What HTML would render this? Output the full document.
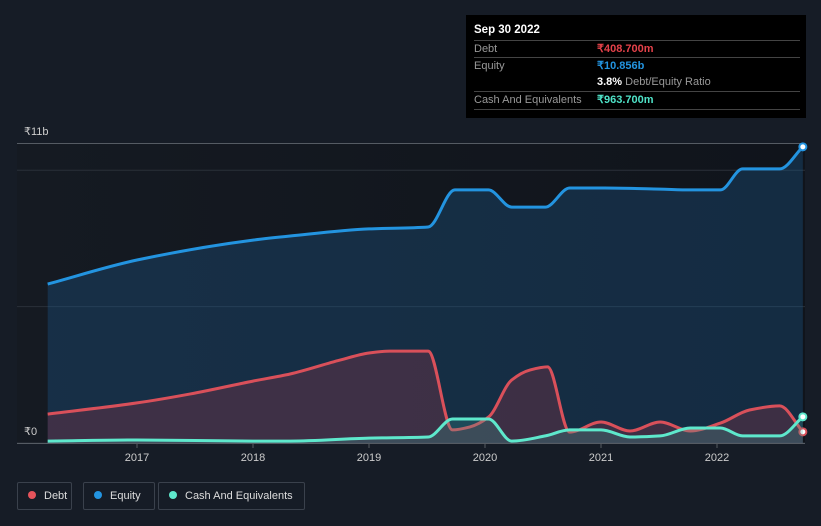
<!DOCTYPE html>
<html><head><meta charset="utf-8"><style>
body{margin:0;background:#161c26;font-family:"Liberation Sans",sans-serif;}
#wrap{position:relative;width:821px;height:526px;overflow:hidden;background:#161c26;}
svg{position:absolute;left:0;top:0}
.tt{position:absolute;left:466px;top:15px;width:340px;height:103px;background:#000;color:#fff;font-size:11px}
.row{position:absolute;left:8px;width:326px;border-top:1px solid #444;height:17px;line-height:17px}
.lg{position:absolute;top:482px;height:26px;border:1px solid #3a414c;border-radius:2px;color:#ddd;font-size:11px;line-height:26px}
.dot{display:inline-block;width:8px;height:8px;border-radius:50%;margin:0 8px 0 10px;vertical-align:-0px}
</style></head><body>
<div id="wrap">
<svg id="chart" width="821" height="526"></svg>
<div class="tt">
 <div style="position:absolute;left:8px;top:9px;font-weight:bold;font-size:11.5px">Sep 30 2022</div>
 <div class="row" style="top:25px"><span style="color:#999">Debt</span><span style="position:absolute;left:123px;color:#e5424a;font-weight:bold">₹408.700m</span></div>
 <div class="row" style="top:42px"><span style="color:#999">Equity</span><span style="position:absolute;left:123px;color:#2394e0;font-weight:bold">₹10.856b</span></div>
 <div class="row" style="top:59px;border-top:none"><span style="position:absolute;left:123px"><b>3.8%</b> <span style="color:#999">Debt/Equity Ratio</span></span></div>
 <div class="row" style="top:76px;border-bottom:1px solid #444"><span style="color:#999">Cash And Equivalents</span><span style="position:absolute;left:123px;color:#4fe3c8;font-weight:bold">₹963.700m</span></div>
</div>
<div class="lg" style="left:17px;width:53px"><span class="dot" style="background:#e5535b"></span>Debt</div>
<div class="lg" style="left:83px;width:70px"><span class="dot" style="background:#2394e0"></span>Equity</div>
<div class="lg" style="left:158px;width:145px"><span class="dot" style="background:#5ee8cc"></span>Cash And Equivalents</div>
</div>
<script>
const eqT=[2016.23,2017,2018,2018.32,2019,2019.51,2019.74,2020.03,2020.23,2020.52,2020.73,2021.03,2021.51,2021.77,2022.03,2022.22,2022.54,2022.74];
const eqV=[5.83,6.71,7.44,7.59,7.85,7.92,9.28,9.28,8.65,8.65,9.35,9.35,9.31,9.28,9.28,10.05,10.05,10.86];
const debtT=[2016.23,2017,2017.46,2018,2018.32,2018.75,2019,2019.18,2019.51,2019.72,2019.87,2020.03,2020.23,2020.39,2020.54,2020.73,2021,2021.25,2021.51,2021.77,2022.03,2022.28,2022.54,2022.74];
const debtV=[1.06,1.47,1.80,2.27,2.53,3.04,3.30,3.37,3.37,0.48,0.59,0.95,2.31,2.68,2.79,0.40,0.77,0.44,0.77,0.44,0.73,1.21,1.36,0.41];
const cashT=[2016.23,2017,2018,2018.32,2019,2019.51,2019.72,2020.03,2020.23,2020.52,2020.73,2021,2021.25,2021.51,2021.77,2022.03,2022.22,2022.54,2022.74];
const cashV=[0.07,0.11,0.07,0.07,0.18,0.22,0.88,0.88,0.07,0.26,0.48,0.48,0.22,0.26,0.55,0.55,0.26,0.26,0.96];
const xTicks=[2017,2018,2019,2020,2021,2022];
const X=t=>137+(t-2017)*116, Y=v=>443-v*27.27;
const NS='http://www.w3.org/2000/svg', svg=document.getElementById('chart');
function mk(tag,attrs){const e=document.createElementNS(NS,tag);for(const k in attrs)e.setAttribute(k,attrs[k]);svg.appendChild(e);return e;}
function mono(xs,ys){const n=xs.length,d=[],m=[];for(let i=0;i<n-1;i++)d.push((ys[i+1]-ys[i])/(xs[i+1]-xs[i]));
m[0]=d[0];m[n-1]=d[n-2];for(let i=1;i<n-1;i++){m[i]=d[i-1]*d[i]<=0?0:3*(d[i-1]+d[i])/ (2*(1/d[i-1]*d[i-1]/d[i-1])+0||1);
const w1=2*(xs[i+1]-xs[i])+(xs[i]-xs[i-1]),w2=(xs[i+1]-xs[i])+2*(xs[i]-xs[i-1]);if(d[i-1]*d[i]>0)m[i]=(w1+w2)/(w1/d[i-1]+w2/d[i]);}
let p='M'+xs[0]+','+ys[0];for(let i=0;i<n-1;i++){const h=(xs[i+1]-xs[i])/3;p+=' C'+(xs[i]+h)+','+(ys[i]+m[i]*h)+' '+(xs[i+1]-h)+','+(ys[i+1]-m[i+1]*h)+' '+xs[i+1]+','+ys[i+1];}return p;}
const defs=mk('defs',{});defs.innerHTML='<linearGradient id="bg" x1="0" x2="1"><stop offset="0" stop-color="#151a22"/><stop offset="1" stop-color="#10141b"/></linearGradient>';
let e=mk('rect',{x:17,y:143,width:788,height:300,fill:'url(#bg)'});

[0,5,10].forEach(v=>{const g=mk('line',{x1:17,x2:805,y1:Y(v),y2:Y(v),stroke:'#2a3039','stroke-width':1});
});
e=mk('line',{x1:17,x2:805,y1:143.5,y2:143.5,stroke:'#555b63'});
function series(ts,vs,color,fill,name){const xs=ts.map(X),ys=vs.map(Y);const p=mono(xs,ys);
const a=mk('path',{d:p+' L'+xs[xs.length-1]+',443 L'+xs[0]+',443 Z',fill:fill});

const l=mk('path',{d:p,fill:'none',stroke:color,'stroke-width':3});

const c=mk('circle',{cx:xs[xs.length-1],cy:ys[ys.length-1],r:3.5,fill:'#fff',stroke:color,'stroke-width':2});
}
series(eqT,eqV,'#2394e0','rgba(30,90,140,0.35)','equity');
series(debtT,debtV,'#d9505a','rgba(110,50,70,0.45)','debt');
series(cashT,cashV,'#5ee8cc','rgba(60,160,150,0.25)','cash');
e=mk('line',{x1:17,x2:805,y1:443.5,y2:443.5,stroke:'#555b63'});
xTicks.forEach(t=>{const k=mk('line',{x1:X(t),x2:X(t),y1:443,y2:448,stroke:'#555b63'});

const tx=mk('text',{x:X(t),y:461,fill:'#ccc','font-size':11,'text-anchor':'middle'});tx.textContent=t;
});
[['₹11b',135],['₹0',435]].forEach(([s,y])=>{const tx=mk('text',{x:24,y:y,fill:'#ccc','font-size':11});tx.textContent=s;
});
</script>
</body></html>
